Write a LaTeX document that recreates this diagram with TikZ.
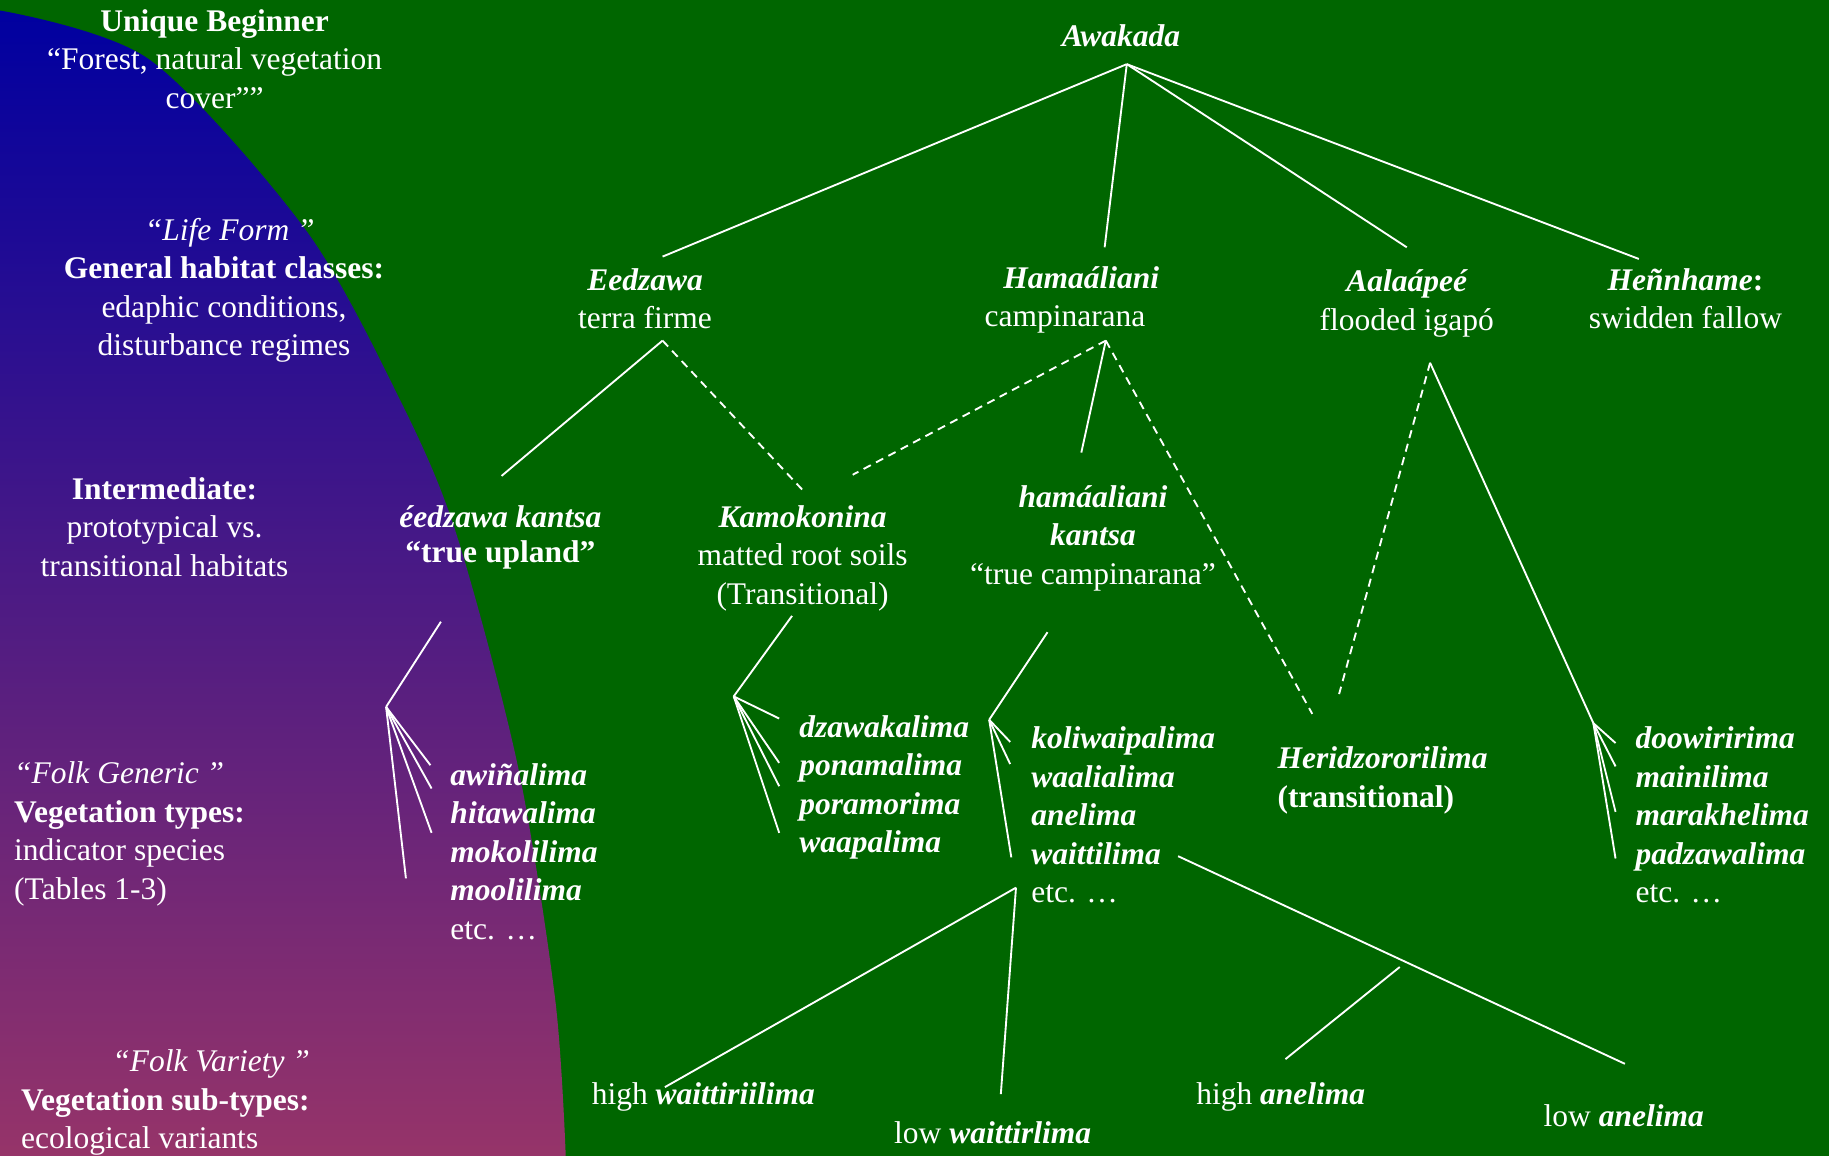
\documentclass[tikz,border=0pt]{standalone}
\usepackage{fontspec}
\setmainfont{Liberation Serif}
\definecolor{forest}{RGB}{0,102,0}
\definecolor{sky}{RGB}{0,0,160}
\definecolor{dusk}{RGB}{100,35,135}
\definecolor{plum}{RGB}{150,52,105}
\newcommand\folk[1]{{\bfseries\itshape #1}}
\tikzset{
  txt/.style={text=white, inner sep=0pt, anchor=base, font=\fontsize{27}{33}\selectfont},
  taxon/.style={txt, font=\fontsize{27}{33}\selectfont\bfseries\itshape},
  branch/.style={draw=white, line width=1.6pt},
  transit/.style={branch, dash pattern=on 7pt off 5pt},
}
\begin{document}
\begin{tikzpicture}[x=1pt, y=-1pt]
\useasboundingbox (0,0) rectangle (1568,991);
\fill[forest] (0,0) rectangle (1568,991);
\shade[top color=sky, middle color=dusk, bottom color=plum] plot[smooth] coordinates {(0,9) (128,51) (262,197) (343,343) (391,457) (444,657) (476,857) (485,991)} -- (0,991) -- cycle;

\node[txt, align=center] (beginner) at (184,93) {\textbf{Unique Beginner}\\“Forest, natural vegetation\\cover””};
\node[txt, align=center] (lifeform) at (192,305) {\hspace*{10pt}\textit{“Life Form ”}\\\textbf{General habitat classes:}\\edaphic conditions,\\disturbance regimes};
\node[txt, align=center] (intermed) at (141,494) {\textbf{Intermediate:}\\prototypical vs.\\transitional habitats};
\node[txt, anchor=base west, align=left] (generic) at (12,771) {\textit{“Folk Generic ”}\\\textbf{Vegetation types:}\\indicator species\\(Tables 1-3)};
\node[txt] (variety) at (181,919) {\textit{“Folk Variety ”}};
\node[txt, anchor=base west, align=left] (subtypes) at (18,985) {\textbf{Vegetation sub-types:}\\ecological variants};

\node[taxon] (awakada) at (961,40) {Awakada};
\node[txt, align=center] (eedzawa) at (553,282) {\folk{Eedzawa}\\terra firme};
\node[txt, align=center] (hamaaliani) at (920,280) {\hspace*{14pt}\folk{Hamaáliani}\\campinarana\hspace*{14pt}};
\node[txt, align=center] (aalaapee) at (1206,283) {\folk{Aalaápeé}\\flooded igapó};
\node[txt, align=center] (hennhame) at (1445,282) {\folk{Heñnhame}\textbf{:}\\swidden fallow};
\node[txt, align=center] (edkantsa) at (429,482) {\folk{éedzawa kantsa}\\[-3pt]\textbf{“true upland”}};
\node[txt, align=center] (kamokonina) at (688,518) {\folk{Kamokonina}\\matted root soils\\(Transitional)};
\node[txt, align=center] (hamkantsa) at (937,501) {\folk{hamáaliani}\\\folk{kantsa}\\“true campinarana”};
\node[txt, anchor=base west, align=left] (heridzo) at (1095,692) {\folk{Heridzororilima}\\\textbf{(transitional)}};
\node[txt, anchor=base west, align=left] (uplandlist) at (386,805) {\folk{awiñalima}\\\folk{hitawalima}\\\folk{mokolilima}\\\folk{moolilima}\\etc. …};
\node[txt, anchor=base west, align=left] (matlist) at (685,731) {\folk{dzawakalima}\\\folk{ponamalima}\\\folk{poramorima}\\\folk{waapalima}};
\node[txt, anchor=base west, align=left] (campilist) at (884,774) {\folk{koliwaipalima}\\\folk{waalialima}\\\folk{anelima}\\\folk{waittilima}\\etc. …};
\node[txt, anchor=base west, align=left] (igapolist) at (1402,774) {\folk{doowiririma}\\\folk{mainilima}\\\folk{marakhelima}\\\folk{padzawalima}\\etc. …};
\node[txt] (highwai) at (603,947) {high \folk{waittiriilima}};
\node[txt] (lowwai) at (851,980) {low \folk{waittirlima}};
\node[txt] (highane) at (1098,947) {high \folk{anelima}};
\node[txt] (lowane) at (1392,966) {low \folk{anelima}};

\coordinate (awakada-j) at (966,55);
\coordinate (eedzawa-t) at (568,220);
\coordinate (hamaaliani-t) at (947,212);
\coordinate (aalaapee-t) at (1206,212);
\coordinate (hennhame-t) at (1405,222);
\coordinate (eedzawa-j) at (568,292);
\coordinate (edkantsa-t) at (430,408);
\coordinate (kamokonina-t) at (688,420);
\coordinate (hamaaliani-j) at (948,292);
\coordinate (kamokonina-t2) at (731,407);
\coordinate (hamkantsa-t) at (927,388);
\coordinate (heridzo-t) at (1125,612);
\coordinate (aalaapee-j) at (1226,311);
\coordinate (heridzo-t2) at (1148,595);
\coordinate (edkantsa-j) at (378,533);
\coordinate (kamokonina-j) at (679,528);
\coordinate (hamkantsa-j) at (898,542);
\coordinate (uplandfan) at (331,606);
\coordinate (matfan) at (629,597);
\coordinate (campifan) at (848,617);
\coordinate (igapofan) at (1366,620);
\coordinate (waittilima-r) at (1010,734);
\coordinate (lowane-t) at (1393,912);
\coordinate (anelima-j) at (1200,829);
\coordinate (highane-t) at (1102,908);
\coordinate (etcfan) at (871,761);
\coordinate (highwai-t) at (570,932);
\coordinate (lowwai-t) at (858,938);

\foreach \t in {eedzawa-t, hamaaliani-t, aalaapee-t, hennhame-t}
  \draw[branch] (awakada-j) -- (\t);
\draw[branch] (eedzawa-j) -- (edkantsa-t);
\draw[transit] (eedzawa-j) -- (kamokonina-t);
\draw[transit] (hamaaliani-j) -- (kamokonina-t2);
\draw[branch] (hamaaliani-j) -- (hamkantsa-t);
\draw[transit] (hamaaliani-j) -- (heridzo-t);
\draw[transit] (aalaapee-j) -- (heridzo-t2);
\draw[branch] (aalaapee-j) -- (igapofan);
\draw[branch] (edkantsa-j) -- (uplandfan);
\draw[branch] (kamokonina-j) -- (matfan);
\draw[branch] (hamkantsa-j) -- (campifan);
\foreach \dx/\dy in {38/50, 39/70, 39/108, 17/147}
  \draw[branch] (uplandfan) -- ++(\dx,\dy);
\foreach \dx/\dy in {39/19, 39/57, 39/77, 39/117}
  \draw[branch] (matfan) -- ++(\dx,\dy);
\foreach \dx/\dy in {18/19, 18/38, 19/118}
  \draw[branch] (campifan) -- ++(\dx,\dy);
\foreach \dx/\dy in {19/17, 19/37, 19/76, 19/116}
  \draw[branch] (igapofan) -- ++(\dx,\dy);
\draw[branch] (waittilima-r) -- (lowane-t);
\draw[branch] (anelima-j) -- (highane-t);
\draw[branch] (etcfan) -- (highwai-t);
\draw[branch] (etcfan) -- (lowwai-t);
\end{tikzpicture}
\end{document}
